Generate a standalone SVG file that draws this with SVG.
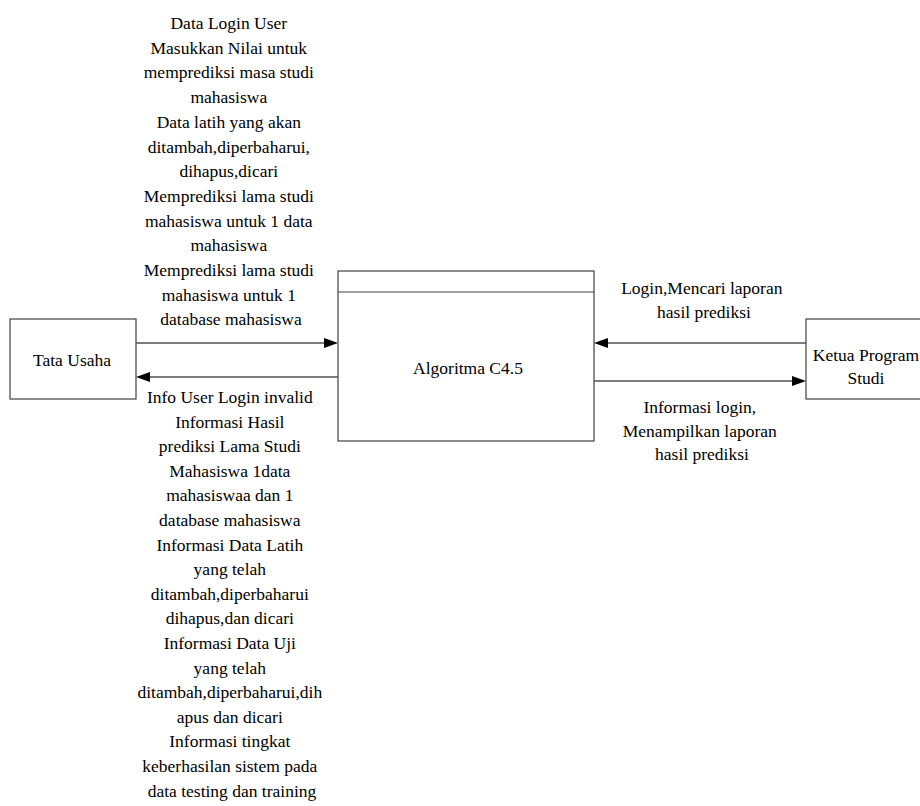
<svg xmlns="http://www.w3.org/2000/svg" width="920" height="806" viewBox="0 0 920 806">
  <rect width="920" height="806" fill="#fff"/>

  <g id="tata-usaha">
    <rect x="10" y="319" width="126" height="80" fill="#fff" stroke="#404040" stroke-width="1.2"/>
    <text x="72" y="366" font-family="Liberation Serif" font-size="17.5" text-anchor="middle">Tata Usaha</text>
  </g>

  <g id="algoritma-c45">
    <rect x="338" y="271" width="256" height="170" fill="#fff" stroke="#404040" stroke-width="1.2"/>
    <line x1="338" y1="292" x2="594" y2="292" stroke="#404040" stroke-width="1.2"/>
    <text x="468" y="374" font-family="Liberation Serif" font-size="17.5" text-anchor="middle">Algoritma C4.5</text>
  </g>

  <g id="ketua-program-studi">
    <rect x="806" y="319" width="130" height="80" fill="#fff" stroke="#404040" stroke-width="1.2"/>
    <text x="866" y="361" font-family="Liberation Serif" font-size="17.5" text-anchor="middle">Ketua Program</text>
    <text x="866" y="384" font-family="Liberation Serif" font-size="17.5" text-anchor="middle">Studi</text>
  </g>

  <g id="connectors">
    <g stroke="#505050" stroke-width="1.5" fill="none">
      <line x1="136" y1="343" x2="326" y2="343"/>
      <line x1="338" y1="377" x2="148" y2="377"/>
      <line x1="806" y1="343" x2="606" y2="343"/>
      <line x1="594" y1="381" x2="794" y2="381"/>
    </g>
    <g fill="#000">
      <polygon points="338,343 324,338 324,348"/>
      <polygon points="136,377 150,372 150,382"/>
      <polygon points="594,343 608,338 608,348"/>
      <polygon points="806,381 792,376 792,386"/>
    </g>
  </g>

  <g id="flow-labels">
    <text x="231" y="29" font-family="Liberation Serif" font-size="17.5" text-anchor="middle">
      <tspan x="231">Data Login User</tspan>
      <tspan x="231" dy="24.7">Masukkan Nilai untuk</tspan>
      <tspan x="231" dy="24.7">memprediksi masa studi</tspan>
      <tspan x="231" dy="24.7">mahasiswa</tspan>
      <tspan x="231" dy="24.7">Data latih yang akan</tspan>
      <tspan x="231" dy="24.7">ditambah,diperbaharui,</tspan>
      <tspan x="231" dy="24.7">dihapus,dicari</tspan>
      <tspan x="231" dy="24.7">Memprediksi lama studi</tspan>
      <tspan x="231" dy="24.7">mahasiswa untuk 1 data</tspan>
      <tspan x="231" dy="24.7">mahasiswa</tspan>
      <tspan x="231" dy="24.7">Memprediksi lama studi</tspan>
      <tspan x="231" dy="24.7">mahasiswa untuk 1</tspan>
      <tspan x="231" dy="24.7">database mahasiswa</tspan>
    </text>

    <text x="232" y="403" font-family="Liberation Serif" font-size="17.5" text-anchor="middle">
      <tspan x="232">Info User Login invalid</tspan>
      <tspan x="232" dy="24.6">Informasi Hasil</tspan>
      <tspan x="232" dy="24.6">prediksi Lama Studi</tspan>
      <tspan x="232" dy="24.6">Mahasiswa 1data</tspan>
      <tspan x="232" dy="24.6">mahasiswaa dan 1</tspan>
      <tspan x="232" dy="24.6">database mahasiswa</tspan>
      <tspan x="232" dy="24.6">Informasi Data Latih</tspan>
      <tspan x="232" dy="24.6">yang telah</tspan>
      <tspan x="232" dy="24.6">ditambah,diperbaharui</tspan>
      <tspan x="232" dy="24.6">dihapus,dan dicari</tspan>
      <tspan x="232" dy="24.6">Informasi Data Uji</tspan>
      <tspan x="232" dy="24.6">yang telah</tspan>
      <tspan x="232" dy="24.6">ditambah,diperbaharui,dih</tspan>
      <tspan x="232" dy="24.6">apus dan dicari</tspan>
      <tspan x="232" dy="24.6">Informasi tingkat</tspan>
      <tspan x="232" dy="24.6">keberhasilan sistem pada</tspan>
      <tspan x="232" dy="24.6">data testing dan training</tspan>
    </text>

    <text x="704" y="294" font-family="Liberation Serif" font-size="17.5" text-anchor="middle">
      <tspan x="704">Login,Mencari laporan</tspan>
      <tspan x="704" dy="24">hasil prediksi</tspan>
    </text>

    <text x="702" y="413" font-family="Liberation Serif" font-size="17.5" text-anchor="middle">
      <tspan x="702">Informasi login,</tspan>
      <tspan x="702" dy="23.5">Menampilkan laporan</tspan>
      <tspan x="702" dy="23.5">hasil prediksi</tspan>
    </text>
  </g>
</svg>
